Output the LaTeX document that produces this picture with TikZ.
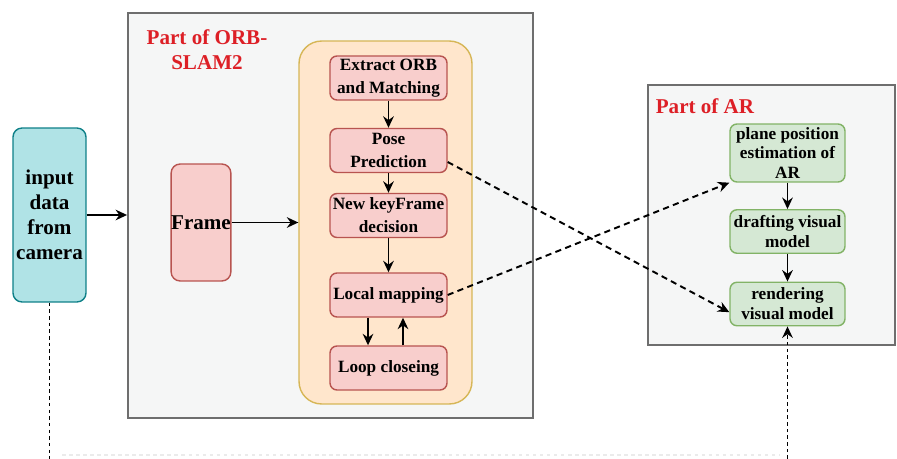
\documentclass[tikz,border=0pt]{standalone}
\usepackage{fontspec}
\setmainfont{Liberation Serif}
\usetikzlibrary{arrows.meta}

\definecolor{rahmengrau}{HTML}{6E6E6E}
\definecolor{hintergrund}{HTML}{F5F6F6}
\definecolor{orangefill}{HTML}{FFE6CC}
\definecolor{orangerand}{HTML}{D6B656}
\definecolor{rosafill}{HTML}{F8CECC}
\definecolor{rosarand}{HTML}{B85450}
\definecolor{gruenfill}{HTML}{D5E8D4}
\definecolor{gruenrand}{HTML}{82B366}
\definecolor{tuerkisfill}{HTML}{B0E3E6}
\definecolor{tuerkisrand}{HTML}{0E8088}
\definecolor{titelrot}{HTML}{DD1F26}

\begin{document}
\begin{tikzpicture}[x=0.02cm, y=-0.02cm, >={Stealth[length=6.5pt,width=6pt]},
  bereich/.style={draw=rahmengrau, fill=hintergrund, line width=1.1pt, inner sep=0pt},
  titel/.style={text=titelrot, font=\fontsize{12}{14.2}\selectfont\bfseries, align=center, inner sep=0pt},
  rosa/.style={draw=rosarand, fill=rosafill, thick, rounded corners=0.14cm, minimum width=2.34cm, minimum height=0.88cm, inner sep=0pt, align=center, font=\fontsize{9.8}{13}\selectfont\bfseries},
  gruen/.style={draw=gruenrand, fill=gruenfill, thick, rounded corners=0.14cm, minimum width=2.3cm, minimum height=0.87cm, inner sep=0pt, align=center, font=\fontsize{9.8}{11.3}\selectfont\bfseries},
  pfeil/.style={->, line width=1.1pt},
  gestrichelt/.style={->, line width=1.1pt, dash pattern=on 3.5pt off 2.5pt},
  punktiert/.style={line width=1.1pt, dash pattern=on 2pt off 1.8pt}]
\useasboundingbox (0,0) rectangle (897,459);

% Bereiche
\node[bereich, minimum width=8.1cm, minimum height=8.1cm] (orb) at (330.5,215.5) {};
\node[bereich, minimum width=4.94cm, minimum height=5.2cm] (ar) at (771.5,215) {};
\node[draw=orangerand, fill=orangefill, line width=0.8pt, rounded corners=0.45cm, minimum width=3.46cm, minimum height=7.26cm, inner sep=0pt] (kern) at (385.5,222.5) {};

% Titel
\node[titel] (titelorb) at (207,50) {Part of ORB-\\SLAM2};
\node[titel] (titelar) at (705,106) {Part of AR};

% Eingang und Frame
\node[draw=tuerkisrand, fill=tuerkisfill, thick, rounded corners=0.18cm, minimum width=1.46cm, minimum height=3.48cm, inner sep=0pt, align=center, font=\fontsize{12}{14.2}\selectfont\bfseries] (eingang) at (49.5,215) {input\\data\\from\\camera};
\node[draw=rosarand, fill=rosafill, thick, rounded corners=0.18cm, minimum width=1.16cm, minimum height=2.34cm, inner sep=0pt, font=\fontsize{12}{14.2}\selectfont\bfseries] (frame) at (201,222.5) {Frame};

% ORB-SLAM2 Schritte
\node[rosa] (extract) at (388.5,78) {Extract ORB\\and Matching};
\node[rosa] (pose) at (388.5,150.5) {Pose\\Prediction};
\node[rosa] (keyframe) at (388.5,215.5) {New keyFrame\\decision};
\node[rosa] (mapping) at (388.5,295) {Local mapping};
\node[rosa] (loop) at (388.5,368) {Loop closeing};

% AR Schritte
\node[gruen, minimum height=1.16cm] (plane) at (787.5,153) {plane position\\estimation of\\AR};
\node[gruen] (drafting) at (787.5,231.5) {drafting visual\\model};
\node[gruen] (rendering) at (787.5,304) {rendering\\visual model};

% Pfeile
\draw[pfeil] (eingang.east) -- (eingang.east -| orb.west);
\draw[pfeil] (frame.east) -- (frame.east -| kern.west);
\draw[pfeil] (extract) -- (pose);
\draw[pfeil] (pose) -- (keyframe);
\draw[pfeil] (keyframe) -- (mapping);
\draw[pfeil] ([xshift=-0.41cm]mapping.south) -- ([xshift=-0.41cm]loop.north);
\draw[pfeil] ([xshift=0.29cm]loop.north) -- ([xshift=0.29cm]mapping.south);
\draw[pfeil] (plane) -- (drafting);
\draw[pfeil] (drafting) -- (rendering);

% Gestrichelte Verbindungen
\draw[gestrichelt] (pose.349) -- (rendering.188);
\draw[gestrichelt] (mapping.east) -- (plane.south west);

% Punktierte Linien nach unten
\coordinate (untenlinks) at (49.5,459);
\coordinate (untenrechts) at (787.5,459);
\draw[punktiert] (eingang.south) -- (untenlinks);
\draw[punktiert, ->] (untenrechts) -- (rendering.south);
\draw[black!8, thick, dash pattern=on 2pt off 2pt] (62,455) -- (780,455); % schwache Linie
\end{tikzpicture}
\end{document}
